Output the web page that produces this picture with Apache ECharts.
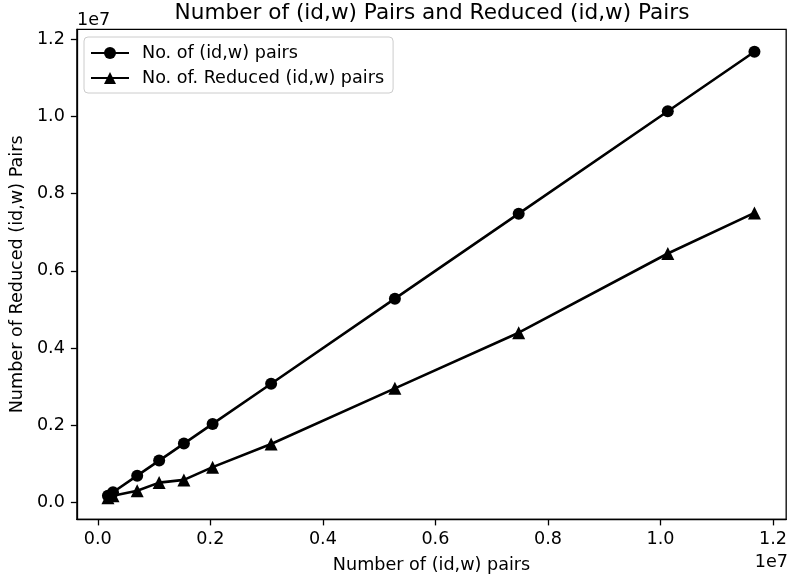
<!DOCTYPE html>
<html>
<head>
<meta charset="utf-8">
<script src="https://cdn.jsdelivr.net/npm/echarts@6/dist/echarts.min.js"></script>
<style>
  html, body { margin: 0; padding: 0; background: #fff; }
  #chart { width: 790px; height: 580px; }
</style>
</head>
<body>
<div id="chart"></div>
<script>
// Number of (id,w) pairs (x) and the corresponding counts (y)
const pairCounts = [180000, 270000, 700000, 1090000, 1530000, 2040000, 3080000, 5280000, 7480000, 10130000, 11670000];
const totalPairs = [180000, 270000, 700000, 1090000, 1530000, 2040000, 3080000, 5280000, 7480000, 10130000, 11670000];
const reducedPairs = [130000, 180000, 310000, 520000, 590000, 920000, 1520000, 2960000, 4400000, 6450000, 7500000];

const seriesNames = ['No. of (id,w) pairs', 'No. of. Reduced (id,w) pairs'];
const tickValues = [0, 2000000, 4000000, 6000000, 8000000, 10000000, 12000000];

const FONT = 'DejaVu Sans';
const FS = 17.6;
const zip = (xs, ys) => xs.map((x, i) => [x, ys[i]]);
const fmt = v => (v / 1e7).toFixed(1);

const chart = echarts.init(document.getElementById('chart'), null, { renderer: 'canvas' });

const axisCommon = {
  type: 'value',
  splitLine: { show: false },
  axisLine: { show: true, onZero: false, lineStyle: { color: '#000', width: 1.3 } },
  axisTick: { show: true, length: 6, lineStyle: { color: '#000', width: 1.3 }, customValues: tickValues },
  axisLabel: { color: '#000', fontFamily: FONT, fontSize: FS, formatter: fmt, customValues: tickValues },
  nameLocation: 'middle',
  nameTextStyle: { color: '#000', fontFamily: FONT, fontSize: FS }
};

chart.setOption({
  backgroundColor: '#fff',
  animation: false,
  title: [
    {
      text: 'Number of (id,w) Pairs and Reduced (id,w) Pairs',
      left: 432, top: 2, padding: 0, textAlign: 'center',
      textStyle: { color: '#000', fontFamily: FONT, fontSize: 21.6, fontWeight: 'normal' }
    },
    {
      text: '1e7', left: 77, top: 11, padding: 0,
      textStyle: { color: '#000', fontFamily: FONT, fontSize: FS, fontWeight: 'normal' }
    },
    {
      text: '1e7', right: 2, top: 553, padding: 0,
      textStyle: { color: '#000', fontFamily: FONT, fontSize: FS, fontWeight: 'normal' }
    }
  ],
  grid: {
    left: 76.7, right: 1.7, top: 29.3, bottom: 60.6,
    show: true, borderColor: '#000', borderWidth: 1.3, backgroundColor: '#fff'
  },
  legend: {
    orient: 'vertical', left: 84, top: 37,
    padding: [6, 9, 5, 6], itemGap: 5,
    itemWidth: 38, itemHeight: 15,
    backgroundColor: 'rgba(255,255,255,0.8)',
    borderColor: '#cccccc', borderWidth: 1, borderRadius: 4,
    textStyle: { color: '#000', fontFamily: FONT, fontSize: FS, lineHeight: 20, padding: [0, 0, 0, 8] },
    data: seriesNames
  },
  xAxis: Object.assign({}, axisCommon, {
    min: -372000, max: 12234000,
    name: 'Number of (id,w) pairs', nameGap: 37,
    axisLabel: Object.assign({}, axisCommon.axisLabel, { margin: 11 })
  }),
  yAxis: Object.assign({}, axisCommon, {
    min: -432000, max: 12252000,
    name: 'Number of Reduced (id,w) Pairs', nameGap: 50,
    axisLabel: Object.assign({}, axisCommon.axisLabel, { margin: 12 })
  }),
  series: [
    {
      name: seriesNames[0], type: 'line',
      data: zip(pairCounts, totalPairs),
      symbol: 'circle', symbolSize: 12,
      lineStyle: { color: '#000', width: 2.6 },
      itemStyle: { color: '#000' }
    },
    {
      name: seriesNames[1], type: 'line',
      data: zip(pairCounts, reducedPairs),
      symbol: 'triangle', symbolSize: 13,
      lineStyle: { color: '#000', width: 2.6 },
      itemStyle: { color: '#000' }
    }
  ]
});
</script>
</body>
</html>
